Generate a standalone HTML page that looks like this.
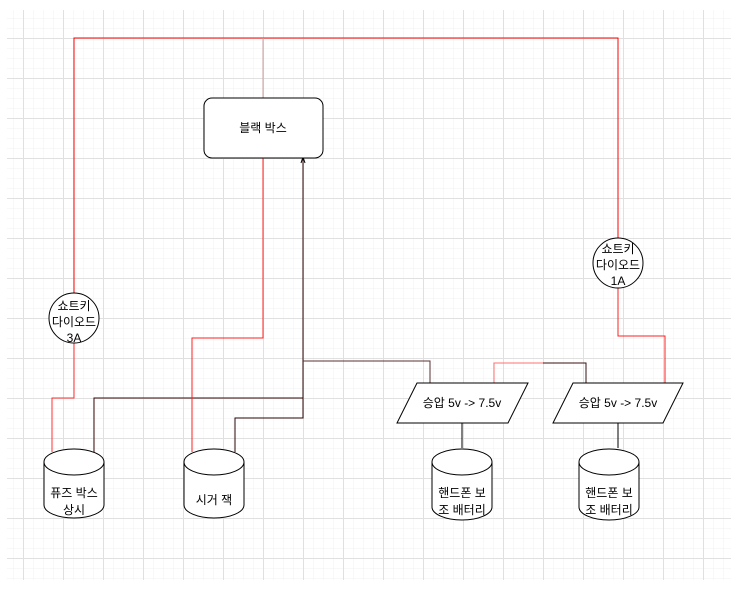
<!DOCTYPE html>
<html><head><meta charset="utf-8"><style>
body{margin:0;background:#fff}
svg text{font-family:"Liberation Sans","Noto Sans CJK KR",sans-serif;font-size:12px;fill:#000}
</style></head><body>
<svg width="741" height="597" xmlns="http://www.w3.org/2000/svg">
<defs>
<pattern id="g1" width="10" height="10" patternUnits="userSpaceOnUse" x="3" y="8"><path d="M0 0H10M0 0V10" stroke="#f0f0f0" stroke-width="1" fill="none"/></pattern>
<pattern id="g2" width="40" height="40" patternUnits="userSpaceOnUse" x="23" y="38"><path d="M0 0.5H40M0.5 0V40" stroke="#e0e0e0" stroke-width="1" fill="none"/></pattern>
</defs>
<rect x="7" y="10" width="724" height="570" fill="url(#g1)"/>
<rect x="7" y="10" width="724" height="570" fill="url(#g2)"/>
<g fill="none" stroke-width="1">
<path d="M74 298V38H618V238" stroke="#ff0000"/>
<path d="M263 38V98" stroke="#c8a0a0"/>
<path d="M74 343V398H52V452" stroke="#ff3030"/>
<path d="M94 452V398H303" stroke="#3a0a0a"/>
<path d="M263 158V338H192V452" stroke="#ff2020"/>
<path d="M303 158V418H235V452" stroke="#2a0505"/>
<path d="M303 361H430V383" stroke="#5a3030"/>
<path d="M494 383V363H543" stroke="#ff7070"/>
<path d="M543 363H586V383" stroke="#3a1010"/>
<path d="M618 288V336H665V383" stroke="#ff2020"/>
<path d="M462 423V448M618 423V448" stroke="#000"/>
</g>
<path d="M301 163L303 157L305 163" fill="none" stroke="#000"/>
<rect x="204" y="98" width="119" height="60" rx="8" fill="#fff" stroke="#000"/>
<text x="263" y="132" text-anchor="middle">블랙 박스</text>
<circle cx="74" cy="318" r="25" fill="#fff" stroke="#000"/>
<text x="74" y="310" text-anchor="middle">쇼트키</text><text x="74" y="326" text-anchor="middle">다이오드</text><text x="74" y="342" text-anchor="middle">3A</text>
<circle cx="618" cy="263" r="25" fill="#fff" stroke="#000"/>
<text x="618" y="253" text-anchor="middle">쇼트키</text><text x="618" y="269" text-anchor="middle">다이오드</text><text x="618" y="285" text-anchor="middle">1A</text>
<path d="M417 383H528L508 423H397Z" fill="#fff" stroke="#000"/>
<text x="462" y="407" text-anchor="middle">승압 5v -&gt; 7.5v</text>
<path d="M573 383H683L663 423H553Z" fill="#fff" stroke="#000"/>
<text x="618" y="407" text-anchor="middle">승압 5v -&gt; 7.5v</text>
<g fill="#fff" stroke="#000">
<path d="M44 462V505A30 13 0 0 0 104 505V462A30 13 0 0 0 44 462Z"/><path d="M44 462A30 13 0 0 0 104 462" fill="none"/>
<path d="M184 462V505A30 13 0 0 0 244 505V462A30 13 0 0 0 184 462Z"/><path d="M184 462A30 13 0 0 0 244 462" fill="none"/>
<path d="M432 462V507A30 13 0 0 0 492 507V462A30 13 0 0 0 432 462Z"/><path d="M432 462A30 13 0 0 0 492 462" fill="none"/>
<path d="M579 462V507A30 13 0 0 0 639 507V462A30 13 0 0 0 579 462Z"/><path d="M579 462A30 13 0 0 0 639 462" fill="none"/>
</g>
<text x="74" y="497" text-anchor="middle">퓨즈 박스</text><text x="74" y="514" text-anchor="middle">상시</text>
<text x="214" y="504" text-anchor="middle">시거 잭</text>
<text x="462" y="497" text-anchor="middle">핸드폰 보</text><text x="462" y="514" text-anchor="middle">조 배터리</text>
<text x="609" y="497" text-anchor="middle">핸드폰 보</text><text x="609" y="514" text-anchor="middle">조 배터리</text>
</svg>
</body></html>
